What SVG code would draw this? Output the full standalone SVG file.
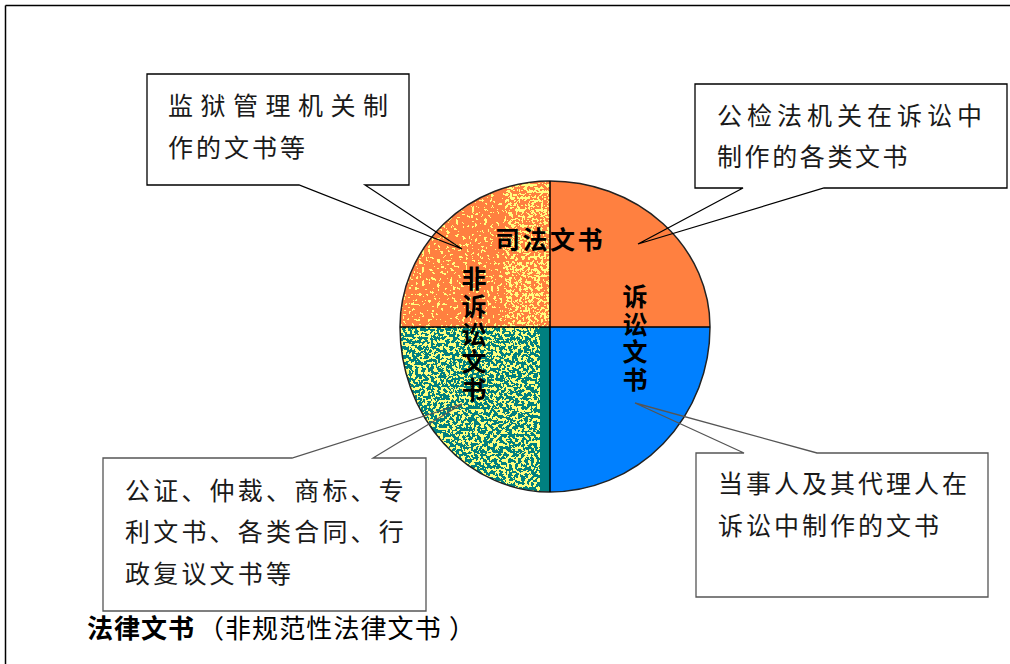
<svg xmlns="http://www.w3.org/2000/svg" width="1010" height="664" viewBox="0 0 1010 664">
<style>
.frame{stroke:#000;stroke-width:1.5;fill:none}
.co{fill:none;stroke:#000;stroke-width:1.3;stroke-linejoin:miter}
.co2{fill:none;stroke:#555;stroke-width:1.3}
.t{font-family:"Noto Sans CJK SC","Liberation Sans",sans-serif;font-size:25px;fill:#1a1a1a;font-weight:normal}
.lbl{font-family:"Noto Sans CJK SC","Liberation Sans",sans-serif;font-size:25px;font-weight:bold;fill:#000}
.vert{writing-mode:vertical-rl;text-orientation:upright}
.cap{font-family:"Noto Sans CJK SC","Liberation Sans",sans-serif;font-size:26px;fill:#000}
.div{stroke:#000;stroke-width:1.5}
</style>
<defs>
<filter id="spkBL" x="0" y="0" width="1" height="1" color-interpolation-filters="sRGB">
<feTurbulence type="fractalNoise" baseFrequency="0.32" numOctaves="2" seed="7"/>
<feColorMatrix type="matrix" values="0 0 0 0 1  0 0 0 0 1  0 0 0 0 0.5  1 0 0 0 0"/>
<feComponentTransfer><feFuncA type="discrete" tableValues="0 0 0 0 0 0 0 0 0 0 0 0 0 1 1 1 1 1 1 1 1 1 1 1 1"/></feComponentTransfer>
<feComposite in2="SourceAlpha" operator="in"/>
</filter>
<filter id="spkMid" x="0" y="0" width="1" height="1" color-interpolation-filters="sRGB">
<feTurbulence type="fractalNoise" baseFrequency="0.32" numOctaves="2" seed="11"/>
<feColorMatrix type="matrix" values="0 0 0 0 1  0 0 0 0 1  0 0 0 0 0.5  1 0 0 0 0"/>
<feComponentTransfer><feFuncA type="discrete" tableValues="0 0 0 0 0 0 0 0 0 0 0 0 0 0 1 1 1 1 1 1 1 1 1 1 1"/></feComponentTransfer>
<feComposite in2="SourceAlpha" operator="in"/>
</filter>
<filter id="spkSparse" x="0" y="0" width="1" height="1" color-interpolation-filters="sRGB">
<feTurbulence type="fractalNoise" baseFrequency="0.32" numOctaves="2" seed="3"/>
<feColorMatrix type="matrix" values="0 0 0 0 1  0 0 0 0 1  0 0 0 0 0.5  1 0 0 0 0"/>
<feComponentTransfer><feFuncA type="discrete" tableValues="0 0 0 0 0 0 0 0 0 0 0 0 0 0 0 0 1 1 1 1 1 1 1 1 1"/></feComponentTransfer>
<feComposite in2="SourceAlpha" operator="in"/>
</filter>
<clipPath id="clipTL"><path d="M550,327 L400,327 A150,146 0 0 1 550,181 Z"/></clipPath>
<clipPath id="clipBL"><path d="M550,327 L550,492 A150,165 0 0 1 400,327 Z"/></clipPath>
</defs>

<g id="frame">
<line class="frame" x1="5.5" y1="5.5" x2="1010" y2="5.5"/>
<line class="frame" x1="5.5" y1="5.5" x2="5.5" y2="664"/>
</g>

<g id="pie">
<path id="q-tl" d="M550,327 L400,327 A150,146 0 0 1 550,181 Z" fill="#FF8040"/>
<g clip-path="url(#clipTL)">
<rect x="400" y="181" width="150" height="146" fill="#000" filter="url(#spkSparse)"/>
<rect x="470" y="181" width="80" height="146" fill="#000" filter="url(#spkSparse)"/>
<rect x="505" y="181" width="45" height="146" fill="#000" filter="url(#spkMid)"/>
</g>
<path id="q-tr" d="M550,327 L550,181 A160,146 0 0 1 710,327 Z" fill="#FF8040"/>
<path id="q-br" d="M550,327 L710,327 A160,165 0 0 1 550,492 Z" fill="#0080FF"/>
<path id="q-bl" d="M550,327 L550,492 A150,165 0 0 1 400,327 Z" fill="#008080"/>
<g clip-path="url(#clipBL)">
<rect x="400" y="327" width="140" height="165" fill="#000" filter="url(#spkBL)"/>
</g>
<path d="M400,327 A150,146 0 0 1 550,181 A160,146 0 0 1 710,327 A160,165 0 0 1 550,492 A150,165 0 0 1 400,327 Z" fill="none" stroke="#222" stroke-width="1.5"/>
<line class="div" x1="550" y1="181" x2="550" y2="492"/>
<line class="div" x1="400" y1="327" x2="710" y2="327"/>
<text class="lbl" x="495" y="249" letter-spacing="2.5">司法文书</text>
<text class="lbl vert" x="474" y="266" letter-spacing="2.75">非诉讼文书</text>
<text class="lbl vert" x="635" y="284" letter-spacing="2.5">诉讼文书</text>
</g>

<g id="connectors">
<polygon id="callout-tl" class="co" points="147,74 409,74 409,185 365,185 462,249 299,185 147,185"/>
<polygon id="callout-tr" class="co" points="695,84 1007,84 1007,188 824,188 638,244 743,188 695,188"/>
<polygon id="callout-bl" class="co2" points="103,458 292,458 462,404 373,458 426,458 426,611 103,611"/>
<polygon id="callout-br" class="co2" points="696,453 744,453 635,403 817,453 988,453 988,597 696,597"/>
</g>

<g id="node-tl">
<text class="t" x="168" y="115" letter-spacing="7.5">监狱管理机关制</text>
<text class="t" x="168" y="157" letter-spacing="3">作的文书等</text>
</g>
<g id="node-tr">
<text class="t" x="717" y="125" letter-spacing="5">公检法机关在诉讼中</text>
<text class="t" x="717" y="166" letter-spacing="2.6">制作的各类文书</text>
</g>
<g id="node-bl">
<text class="t" x="125" y="500" letter-spacing="3.2">公证、仲裁、商标、专</text>
<text class="t" x="125" y="541" letter-spacing="3.2">利文书、各类合同、行</text>
<text class="t" x="125" y="583" letter-spacing="3.2">政复议文书等</text>
</g>
<g id="node-br">
<text class="t" x="718" y="493" letter-spacing="3">当事人及其代理人在</text>
<text class="t" x="718" y="535" letter-spacing="3">诉讼中制作的文书</text>
</g>
<g id="caption">
<text class="cap" y="638"><tspan x="87" font-weight="bold" letter-spacing="1">法律文书</tspan><tspan x="198">（</tspan><tspan x="225" letter-spacing="1.1">非规范性法律文书</tspan><tspan x="449">）</tspan></text>
</g>
</svg>
